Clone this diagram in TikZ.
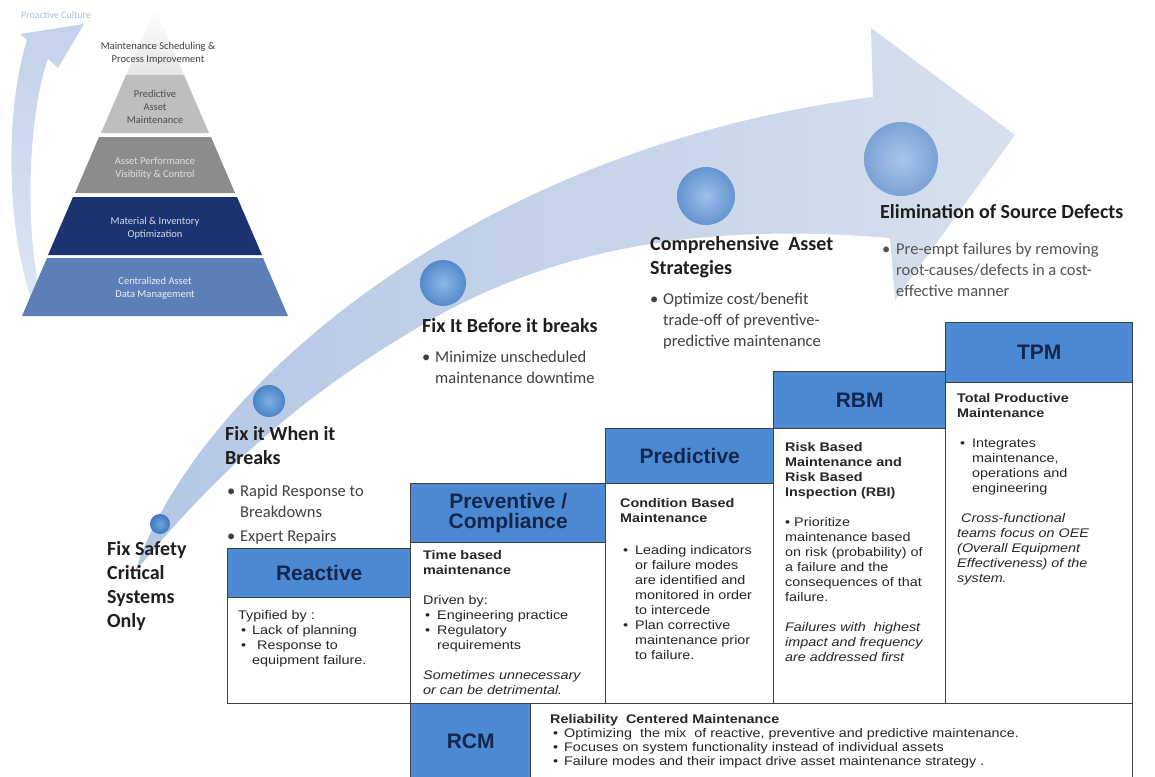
\documentclass[tikz,border=0pt]{standalone}
\usepackage{fontspec}
\setmainfont{Carlito}
\newfontfamily\arialf{Liberation Sans}
\newfontfamily\arialw{Liberation Sans}[FakeStretch=1.15]
\usetikzlibrary{calc}
\definecolor{bandA}{HTML}{B3C7E5}
\definecolor{bandB}{HTML}{D7E0ED}
\definecolor{pcTop}{HTML}{C3D2EA}
\definecolor{pcBot}{HTML}{DDE6F3}
\definecolor{pcText}{HTML}{A9BDDD}
\definecolor{hdrBlue}{HTML}{4B8AD2}
\definecolor{hdrText}{HTML}{15264E}
\definecolor{boxLine}{HTML}{404040}
\definecolor{bodyText}{HTML}{262626}
\definecolor{headTxt}{HTML}{1E1E1E}
\definecolor{bulTxt}{HTML}{404040}
\definecolor{pyrA}{HTML}{BEBEBE}
\definecolor{pyrB}{HTML}{8C8C8C}
\definecolor{pyrC}{HTML}{1C3372}
\definecolor{pyrD}{HTML}{5C7FB8}
\definecolor{cAin}{HTML}{6FA3DD}\definecolor{cAout}{HTML}{3E78BD}
\definecolor{cBin}{HTML}{7FAFE2}\definecolor{cBout}{HTML}{4A84C6}
\definecolor{cCin}{HTML}{8DB7E6}\definecolor{cCout}{HTML}{5389CB}
\definecolor{cDin}{HTML}{9CC0EA}\definecolor{cDout}{HTML}{6494D0}
\definecolor{cEin}{HTML}{A9C6EA}\definecolor{cEout}{HTML}{7BA2D6}
\begin{document}
\begin{tikzpicture}[x=1pt,y=-1pt,
  hdr/.style={draw=boxLine, line width=1.4pt, fill=hdrBlue, anchor=north west, inner sep=0pt, font=\arialf\bfseries\fontsize{21}{21}\selectfont, text=hdrText, align=center},
  bodybox/.style={draw=boxLine, line width=1.4pt, fill=white, anchor=north west, inner sep=0pt},
  btxt/.style={anchor=north west, inner sep=0pt, align=left, text=bodyText, font=\arialw\fontsize{12.5}{15}\selectfont},
  headt/.style={anchor=north west, inner sep=0pt, align=left, text=headTxt, font=\bfseries\fontsize{20}{24}\selectfont},
  bult/.style={anchor=north west, inner sep=0pt, align=left, text=bulTxt, font=\fontsize{16.5}{21}\selectfont},
  dot/.style={circle, inner sep=0pt},
  ptxt/.style={align=center, inner sep=0pt, font=\fontsize{10.5}{13}\selectfont}
]
\useasboundingbox (0,0) rectangle (1155,776);
\fill[white] (0,0) rectangle (1155,776);

% Proactive culture arrow
\shade[top color=pcTop, bottom color=pcBot] (38,316) .. controls (8,250) and (2,120) .. (27,40)
  -- (20,34) -- (84,24) -- (58,68) -- (48,59) .. controls (26,120) and (24,250) .. (46,316) -- cycle;
\node[font=\fontsize{10}{10}\selectfont, text=pcText, anchor=west, inner sep=0pt] (pcul) at (21,15) {Proactive Culture};

% pyramid
\shade[top color=white, bottom color=black!10] (155,8) -- (184,75) -- (126,75) -- cycle;
\fill[pyrA] (126,75) -- (184,75) -- (209,133) -- (101,133) -- cycle;
\fill[pyrB] (99,137) -- (211,137) -- (235,193) -- (75,193) -- cycle;
\fill[pyrC] (73,197) -- (237,197) -- (262,255) -- (48,255) -- cycle;
\fill[pyrD] (47,258) -- (263,258) -- (288,316) -- (22,316) -- cycle;
\node[ptxt, text=black!75] (pms) at (158,53) {Maintenance Scheduling \&\\Process Improvement};
\node[ptxt, text=black!70] (ppa) at (155,107) {Predictive\\Asset\\Maintenance};
\node[ptxt, text=black!12] (pap) at (155,168.5) {Asset Performance\\Visibility \& Control};
\node[ptxt, text=white!82!pyrC] (pmi) at (155,228.5) {Material \& Inventory\\Optimization};
\node[ptxt, text=white!88!pyrD] (pca) at (155,288.5) {Centralized Asset\\Data Management};

% main arrow band
\shade[left color=bandA, right color=bandB]
  (135,572) .. controls (190,400) and (460,150) .. (873,97)
  -- (871,28) -- (1015,135) -- (895,300) -- (890,238)
  .. controls (700,222) and (560,250) .. (443,313)
  .. controls (360,360) and (250,430) .. (135,572) -- cycle;

% circles
\node[dot, minimum size=20, inner color=cAin, outer color=cAout] (c1) at (160,524) {};
\node[dot, minimum size=32, inner color=cBin, outer color=cBout] (c2) at (269,401) {};
\node[dot, minimum size=46, inner color=cCin, outer color=cCout] (c3) at (443,283) {};
\node[dot, minimum size=58, inner color=cDin, outer color=cDout] (c4) at (706,196) {};
\node[dot, minimum size=74, inner color=cEin, outer color=cEout] (c5) at (901,159) {};

% stage texts
\node[headt] (fs) at (107,541.5) {Fix Safety\\Critical\\Systems\\Only};
\node[headt] (fw) at (225,426.5) {Fix it When it\\Breaks};
\node[bult] (fwb) at (227,485) {\makebox[13pt][l]{•}Rapid Response to\\\hspace*{13pt}Breakdowns\\[3pt]\makebox[13pt][l]{•}Expert Repairs};
\node[headt] (fb) at (422,318.5) {Fix It Before it breaks};
\node[bult] (fbb) at (422,351) {\makebox[13pt][l]{•}Minimize unscheduled\\\hspace*{13pt}maintenance downtime};
\node[headt] (ca) at (650,236.5) {Comprehensive\ \ Asset\\Strategies};
\node[bult] (cab) at (650,293) {\makebox[13pt][l]{•}Optimize cost/benefit\\\hspace*{13pt}trade-off of preventive-\\\hspace*{13pt}predictive maintenance};
\node[headt] (el) at (880,204.5) {Elimination of Source Defects};
\node[bult, text=black!68] (elb) at (882,243) {\makebox[14pt][l]{•}Pre-empt failures by removing\\\hspace*{14pt}root-causes/defects in a cost-\\\hspace*{14pt}effective manner};

% boxes
\node[bodybox, minimum width=183, minimum height=155] (rbox) at (227,548) {};
\node[hdr, minimum width=183, minimum height=49] (rhd) at (227,548) {Reactive};
\node[bodybox, minimum width=195, minimum height=220] (pbox) at (410,483) {};
\node[hdr, minimum width=195, minimum height=59, font=\arialf\bfseries\fontsize{21}{20}\selectfont] (phd) at (410,483) {Preventive /\\Compliance};
\node[bodybox, minimum width=168, minimum height=275] (dbox) at (605,428) {};
\node[hdr, minimum width=168, minimum height=55] (dhd) at (605,428) {Predictive};
\node[bodybox, minimum width=172, minimum height=332] (bbox) at (773,371) {};
\node[hdr, minimum width=172, minimum height=57] (bhd) at (773,371) {RBM};
\node[bodybox, minimum width=187, minimum height=381] (tbox) at (945,322) {};
\node[hdr, minimum width=187, minimum height=60] (thd) at (945,322) {TPM};
\node[bodybox, minimum width=722, minimum height=76] (cbox) at (410,703) {};
\node[hdr, minimum width=120, minimum height=76] (chd) at (410,703) {RCM};

% box body texts
\node[btxt] (rtx) at (238,610) {Typified by :\\\hspace*{3pt}\makebox[11pt][l]{•}Lack of planning\\\hspace*{3pt}\makebox[11pt][l]{•}\hspace*{5pt}Response to\\\hspace*{14pt}equipment failure.};
\node[btxt] (ptx) at (423,550) {\textbf{Time based}\\\textbf{maintenance}\\[15pt]Driven by:\\\hspace*{2pt}\makebox[12pt][l]{•}Engineering practice\\\hspace*{2pt}\makebox[12pt][l]{•}Regulatory\\\hspace*{14pt}requirements\\[15pt]\textit{Sometimes unnecessary}\\\textit{or can be detrimental.}};
\node[btxt] (dtx) at (620,498) {\textbf{Condition Based}\\\textbf{Maintenance}\\[17pt]\hspace*{3pt}\makebox[12pt][l]{•}Leading indicators\\\hspace*{15pt}or failure modes\\\hspace*{15pt}are identified and\\\hspace*{15pt}monitored in order\\\hspace*{15pt}to intercede\\\hspace*{3pt}\makebox[12pt][l]{•}Plan corrective\\\hspace*{15pt}maintenance prior\\\hspace*{15pt}to failure.};
\node[btxt] (btx) at (785,442) {\textbf{Risk Based}\\\textbf{Maintenance and}\\\textbf{Risk Based}\\\textbf{Inspection (RBI)}\\[15pt]• Prioritize\\maintenance based\\on risk (probability) of\\a failure and the\\consequences of that\\failure.\\[15pt]\textit{Failures with\ \ highest}\\\textit{impact and frequency}\\\textit{are addressed first}};
\node[btxt] (ttx) at (957,393) {\textbf{Total Productive}\\\textbf{Maintenance}\\[15pt]\hspace*{3pt}\makebox[12pt][l]{•}Integrates\\\hspace*{15pt}maintenance,\\\hspace*{15pt}operations and\\\hspace*{15pt}engineering\\[15pt]\hspace*{4pt}\textit{Cross-functional}\\\textit{teams focus on OEE}\\\textit{(Overall Equipment}\\\textit{Effectiveness) of the}\\\textit{system.}};
\node[btxt, font=\arialw\fontsize{12.5}{14}\selectfont] (ctx) at (550,714) {\textbf{Reliability\ \ Centered Maintenance}\\\hspace*{3pt}\makebox[11pt][l]{•}Optimizing\ \ the mix\ \ of reactive, preventive and predictive maintenance.\\\hspace*{3pt}\makebox[11pt][l]{•}Focuses on system functionality instead of individual assets\\\hspace*{3pt}\makebox[11pt][l]{•}Failure modes and their impact drive asset maintenance strategy .};
\end{tikzpicture}
\end{document}
